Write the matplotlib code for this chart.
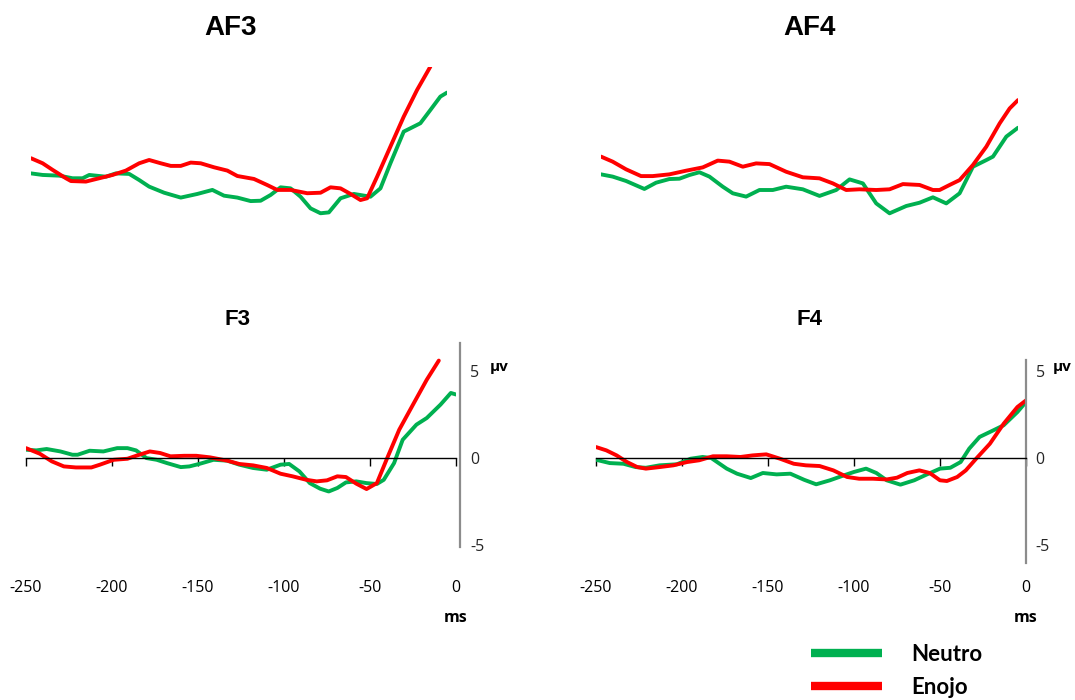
import matplotlib
matplotlib.use("Agg")
import matplotlib.pyplot as plt
from matplotlib.lines import Line2D

# colores tipo Excel
verde = "#00B050"
rojo = "#FF0000"

# ---- datos (ms, microvoltios) ----
af3_enojo_ms = [-250, -243, -237, -229, -226, -217, -209, -201, -193, -185, -179, -172, -166, -160, -154, -148, -140,
                -132, -126, -116, -108, -102, -94, -84, -76, -70, -64, -58, -52, -48, -42, -34, -26, -18, -10]
af3_enojo = [1.44, 1.15, 0.77, 0.29, 0.13, 0.1, 0.29, 0.48, 0.73, 1.15, 1.34, 1.15, 1.0, 1.0, 1.19, 1.15, 0.92,
             0.73, 0.42, 0.25, -0.1, -0.38, -0.38, -0.57, -0.54, -0.23, -0.29, -0.61, -0.96, -0.86, 0.38, 2.11, 3.83,
             5.36, 6.7]
af3_neutro_ms = [-250, -243, -233, -225, -219, -215, -205, -199, -191, -185, -179, -170, -160, -150, -141, -134, -126,
                 -118, -112, -106, -100, -94, -88, -82, -76, -71, -64, -56, -46, -40, -34, -26, -22, -16, -10, -4, 0]
af3_neutro = [0.57, 0.48, 0.44, 0.29, 0.29, 0.48, 0.38, 0.57, 0.54, 0.19, -0.19, -0.54, -0.82, -0.61, -0.38, -0.71,
              -0.82, -1.02, -1.0, -0.67, -0.23, -0.29, -0.77, -1.44, -1.72, -1.67, -0.86, -0.61, -0.77, -0.29, 1.15,
              2.97, 3.16, 3.45, 4.21, 4.98, 5.21]

af4_enojo_ms = [-250, -243, -235, -226, -219, -209, -199, -189, -180, -173, -165, -157, -149, -139, -129, -119, -111,
                -103, -95, -85, -77, -69, -59, -51, -47, -41, -35, -27, -19, -11, -5, 0]
af4_enojo = [1.92, 1.63, 1.19, 0.8, 0.8, 0.9, 1.11, 1.3, 1.69, 1.63, 1.34, 1.53, 1.49, 1.05, 0.73, 0.67, 0.38, 0,
             0.04, 0, 0.04, 0.34, 0.29, 0, 0, 0.29, 0.57, 1.44, 2.49, 3.83, 4.69, 5.17]
af4_neutro_ms = [-250, -243, -235, -224, -217, -209, -203, -197, -191, -185, -177, -171, -163, -155, -147, -139, -129,
                 -119, -109, -101, -93, -85, -77, -67, -59, -51, -43, -35, -27, -19, -15, -7, 0]
af4_neutro = [0.9, 0.77, 0.52, 0.06, 0.42, 0.63, 0.65, 0.86, 1.02, 0.77, 0.19, -0.19, -0.38, 0, 0, 0.19, 0.04,
              -0.34, 0, 0.61, 0.38, -0.77, -1.34, -0.92, -0.73, -0.42, -0.77, -0.19, 1.34, 1.72, 1.92, 3.07, 3.58]

f3_enojo_ms = [-250, -242, -235, -228, -221, -212, -207, -199, -191, -186, -178, -172, -166, -158, -151, -143, -133,
               -126, -118, -110, -102, -95, -87, -81, -75, -69, -64, -58, -52, -46, -40, -33, -25, -17, -10]
f3_enojo = [0.57, 0.25, -0.19, -0.48, -0.54, -0.54, -0.38, -0.1, -0.04, 0.13, 0.38, 0.29, 0.1, 0.13, 0.13, 0.04,
            -0.15, -0.34, -0.42, -0.57, -0.9, -1.05, -1.25, -1.34, -1.28, -1.05, -1.09, -1.47, -1.78, -1.44, 0, 1.63,
            3.07, 4.5, 5.6]
f3_neutro_ms = [-250, -244, -238, -230, -223, -220, -213, -205, -197, -191, -186, -180, -174, -168, -160, -155, -149,
                -141, -133, -126, -118, -110, -102, -97, -91, -85, -79, -74, -69, -64, -58, -52, -46, -42, -36, -31,
                -23, -17, -9, -3, 0]
f3_neutro = [0.48, 0.44, 0.52, 0.38, 0.19, 0.19, 0.42, 0.38, 0.57, 0.57, 0.44, 0, -0.1, -0.29, -0.52, -0.48, -0.33,
             -0.1, -0.15, -0.38, -0.57, -0.67, -0.38, -0.34, -0.77, -1.44, -1.76, -1.92, -1.72, -1.4, -1.34, -1.44,
             -1.49, -1.25, -0.29, 1.05, 1.92, 2.3, 3.07, 3.74, 3.65]

f4_enojo_ms = [-250, -244, -238, -232, -226, -221, -213, -205, -197, -190, -182, -174, -166, -159, -151, -143, -135,
               -128, -120, -112, -104, -97, -89, -81, -75, -69, -62, -56, -50, -46, -40, -35, -29, -21, -13, -5, 0]
f4_enojo = [0.63, 0.44, 0.15, -0.23, -0.52, -0.61, -0.52, -0.42, -0.23, -0.13, 0.1, 0.1, 0.06, 0.15, 0.21, -0.04,
            -0.33, -0.42, -0.46, -0.71, -1.09, -1.19, -1.19, -1.23, -1.13, -0.86, -0.71, -0.86, -1.28, -1.32, -1.09,
            -0.71, -0.04, 0.82, 1.97, 2.93, 3.31]
f4_neutro_ms = [-250, -242, -234, -227, -221, -213, -203, -195, -188, -183, -174, -168, -160, -153, -145, -137, -129,
                -122, -114, -106, -100, -93, -87, -81, -73, -65, -58, -50, -44, -38, -33, -27, -19, -13, -5, 0]
f4_neutro = [-0.1, -0.29, -0.33, -0.52, -0.56, -0.42, -0.36, -0.04, 0.06, 0, -0.61, -0.9, -1.15, -0.86, -0.94, -0.9,
             -1.25, -1.51, -1.28, -1.0, -0.8, -0.61, -0.86, -1.28, -1.53, -1.28, -0.96, -0.61, -0.56, -0.23, 0.54,
             1.21, 1.59, 1.88, 2.64, 3.22]

xticks = [-250, -200, -150, -100, -50, 0]
yticks = [-5, 0, 5]
leyenda = ["Neutro", "Enojo"]

W, H = 1075, 700
fig = plt.figure(figsize=(W / 100, H / 100), dpi=100)
fuente = "Open Sans"


def ejes(izq, arriba, der, abajo):
    # caja en pixeles de la imagen
    return fig.add_axes([izq / W, 1 - abajo / H, (der - izq) / W, (abajo - arriba) / H])


def curvas(ax, ms_n, n, ms_e, e):
    ax.plot(ms_n, n, color=verde, lw=2.8, solid_capstyle="round", solid_joinstyle="round")
    ax.plot(ms_e, e, color=rojo, lw=2.8, solid_capstyle="round", solid_joinstyle="round")
    ax.set_xlim(-250, 0)


# paneles AF sin ejes
ax_af3 = ejes(31, 67, 447, 250)
curvas(ax_af3, af3_neutro_ms, af3_neutro, af3_enojo_ms, af3_enojo)
ax_af3.set_ylim(-3.83, 6.68)
ax_af3.axis("off")

ax_af4 = ejes(601, 90, 1018, 250)
curvas(ax_af4, af4_neutro_ms, af4_neutro, af4_enojo_ms, af4_enojo)
ax_af4.set_ylim(-3.45, 5.75)
ax_af4.axis("off")

fig.text(231 / W, 1 - 28 / H, "AF3", ha="center", va="center", fontsize=20, fontweight="bold",
         family="Liberation Sans")
fig.text(810 / W, 1 - 28 / H, "AF4", ha="center", va="center", fontsize=20, fontweight="bold",
         family="Liberation Sans")

# paneles F con ejes
ax_f3 = ejes(26, 343, 456, 547)
curvas(ax_f3, f3_neutro_ms, f3_neutro, f3_enojo_ms, f3_enojo)
ax_f3.set_ylim(-5.11, 6.61)

ax_f4 = ejes(596, 360, 1026, 563)
curvas(ax_f4, f4_neutro_ms, f4_neutro, f4_enojo_ms, f4_enojo)
ax_f4.set_ylim(-6.03, 5.63)

for ax, titulo, tx, sep, mu_dx in [(ax_f3, "F3", 237, 3, 24), (ax_f4, "F4", 810, 0, 19)]:
    for lado in ["top", "left"]:
        ax.spines[lado].set_visible(False)
    ax.spines["bottom"].set_position(("data", 0))
    ax.spines["bottom"].set_color("black")
    ax.spines["bottom"].set_linewidth(1.0)
    ax.spines["right"].set_position(("outward", sep))
    ax.spines["right"].set_color("#8c8c8c")
    ax.spines["right"].set_linewidth(1.6)
    ax.set_xticks(xticks)
    ax.set_xticklabels([str(v) for v in xticks], fontsize=11.5, family=fuente, color="#262626")
    ax.tick_params(axis="x", direction="out", length=6, width=1, pad=82, colors="black")
    ax.yaxis.tick_right()
    ax.set_yticks(yticks)
    ax.set_yticklabels([str(v) for v in yticks], fontsize=11.5, family=fuente, color="#262626")
    ax.tick_params(axis="y", length=0, pad=7)
    ax.patch.set_visible(False)
    ax.annotate("µv", xy=(1, 5), xycoords=("axes fraction", "data"), xytext=(mu_dx, 3),
                textcoords="offset points", fontsize=11, fontweight="bold", family=fuente,
                ha="left", va="center")
    ax.annotate("ms", xy=(1, 0), xycoords=("axes fraction", "data"), xytext=(0, -115),
                textcoords="offset points", fontsize=11.5, fontweight="bold", family=fuente,
                ha="center", va="center")
    fig.text(tx / W, 1 - 320 / H, titulo, ha="center", va="center", fontsize=16, fontweight="bold",
             family="Liberation Sans")

# leyenda abajo a la derecha
manijas = [Line2D([], [], color=verde, lw=6, solid_capstyle="butt"),
           Line2D([], [], color=rojo, lw=6, solid_capstyle="butt")]
fig.legend(manijas, leyenda, loc="center left", bbox_to_anchor=(791 / W, 1 - 671 / H), frameon=False,
           handlelength=3.2, handletextpad=1.3, labelspacing=0.55,
           prop={"family": "Lato", "weight": "bold", "size": 16})

fig.savefig("out.png", dpi=100)
